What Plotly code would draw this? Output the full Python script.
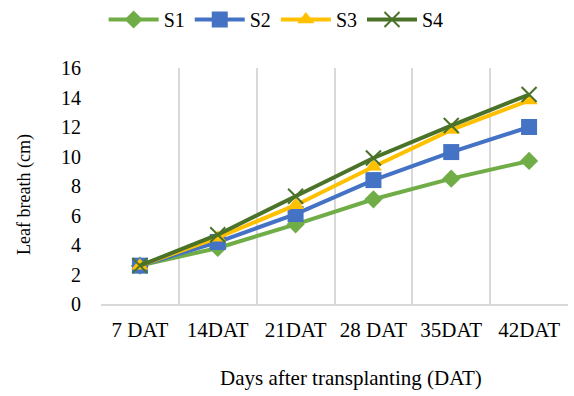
import plotly.graph_objects as go

# Sampling dates and leaf breadth (cm) for each treatment
dates = ["7 DAT", "14DAT", "21DAT", "28 DAT", "35DAT", "42DAT"]
s1 = [2.6, 3.8, 5.4, 7.1, 8.5, 9.7]
s2 = [2.6, 4.2, 6.1, 8.4, 10.3, 12.0]
s3 = [2.6, 4.5, 6.7, 9.3, 11.8, 13.8]
s4 = [2.6, 4.7, 7.3, 9.9, 12.1, 14.2]

series = [
    ("S1", s1, "#70AD47", "diamond", 14),
    ("S2", s2, "#4472C4", "square", 16),
    ("S3", s3, "#FFC000", "triangle-up", 15),
    ("S4", s4, "#4A7229", "x-thin", 15),
]

fig = go.Figure()
for name, vals, color, sym, size in series:
    marker = dict(symbol=sym, size=size, color=color)
    if sym == "x-thin":
        marker["line"] = dict(color=color, width=2)
    fig.add_trace(go.Scatter(
        x=dates, y=vals, name=name, mode="lines+markers",
        line=dict(color=color, width=4),
        marker=marker,
    ))

serif = "Liberation Serif"
fig.update_layout(
    width=574, height=396,
    margin=dict(l=101, r=6, t=68, b=92),
    paper_bgcolor="white", plot_bgcolor="white",
    font=dict(family=serif, size=20, color="#000"),
    legend=dict(orientation="h", x=0.375, xanchor="center", xref="paper",
                y=1.0, yanchor="top", yref="container",
                font=dict(family=serif, size=20, color="#000"),
                itemwidth=50, traceorder="normal"),
    showlegend=True,
)
fig.update_xaxes(
    type="category", range=[-0.5, 5.5], tickson="boundaries",
    showgrid=True, gridcolor="#D9D9D9", gridwidth=1.5,
    showline=True, linecolor="#D9D9D9", linewidth=1.5,
    ticks="", tickfont=dict(family=serif, size=21, color="#000"), ticklabelstandoff=6,
)
fig.update_yaxes(
    range=[0, 16], dtick=2, showgrid=False, zeroline=False,
    showline=False, ticks="", tickfont=dict(family=serif, size=20, color="#000"),
    ticklabelstandoff=19,
)

# Axis titles
fig.add_annotation(text="Days after transplanting (DAT)", xref="paper", yref="paper",
                   x=0.536, y=-0.315, xanchor="center", yanchor="middle",
                   showarrow=False, font=dict(family=serif, size=21, color="#000"))
fig.add_annotation(text="Leaf breath (cm)", xref="paper", yref="paper",
                   x=-0.165, y=0.466, xanchor="center", yanchor="middle",
                   textangle=-90, showarrow=False,
                   font=dict(family=serif, size=18, color="#000"))

fig.write_html("out.html")
